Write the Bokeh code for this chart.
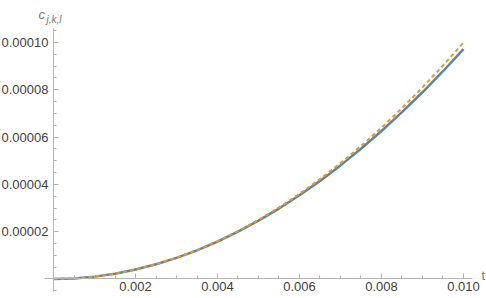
from bokeh.plotting import figure
from bokeh.models import Range1d, FixedTicker, NumeralTickFormatter, Label
from bokeh.embed import file_html
from bokeh.resources import INLINE

# data
t = [0.0, 0.0005, 0.001, 0.0015, 0.002, 0.0025, 0.003, 0.0035, 0.004, 0.0045,
     0.005, 0.0055, 0.006, 0.0065, 0.007, 0.0075, 0.008, 0.0085, 0.009, 0.0095, 0.010]
c_blue = [0.0, 2.5e-7, 9.97e-7, 2.24e-6, 3.98e-6, 6.21e-6, 8.92e-6, 1.213e-5, 1.582e-5,
          1.999e-5, 2.465e-5, 2.978e-5, 3.54e-5, 4.148e-5, 4.804e-5, 5.507e-5, 6.257e-5,
          7.053e-5, 7.896e-5, 8.785e-5, 9.72e-5]
c_orange = [0.0, 2.5e-7, 1.0e-6, 2.25e-6, 4.0e-6, 6.25e-6, 9.0e-6, 1.225e-5, 1.6e-5,
            2.025e-5, 2.5e-5, 3.025e-5, 3.6e-5, 4.225e-5, 4.9e-5, 5.625e-5, 6.4e-5,
            7.225e-5, 8.1e-5, 9.025e-5, 1.0e-4]

x_major = [0.002, 0.004, 0.006, 0.008, 0.010]
x_minor = [0.0005, 0.001, 0.0015, 0.0025, 0.003, 0.0035, 0.0045, 0.005, 0.0055,
           0.0065, 0.007, 0.0075, 0.0085, 0.009, 0.0095]
y_major = [0.00002, 0.00004, 0.00006, 0.00008, 0.00010]
y_minor = [-0.000005, 0.000005, 0.00001, 0.000015, 0.000025, 0.00003, 0.000035,
           0.000045, 0.00005, 0.000055, 0.000065, 0.00007, 0.000075, 0.000085,
           0.00009, 0.000095, 0.000105]

x_label = "t"
y_label_main = "c"
y_label_sub = "j,k,l"

p = figure(width=486, height=298, output_backend="svg", toolbar_location=None,
           x_range=Range1d(-0.0012927, 0.0105610),
           y_range=Range1d(-0.00000825, 0.00011776),
           min_border=0, background_fill_color="white", border_fill_color="white")
p.outline_line_color = None
p.grid.visible = False

p.line(t, c_blue, line_color="#5E81B5", line_width=2.5)
p.line(t, c_orange, line_color="#E19C24", line_width=2, line_dash="4 3")

axis_col = "#b3b3b3"
lab_col = "#404040"

xa = p.xaxis[0]
xa.fixed_location = 0
xa.bounds = (-0.00022, 0.01022)
xa.ticker = FixedTicker(ticks=x_major, minor_ticks=x_minor)
xa.formatter = NumeralTickFormatter(format="0.000")
ya = p.yaxis[0]
ya.fixed_location = 0
ya.bounds = (-0.0000054, 0.0001061)
ya.ticker = FixedTicker(ticks=y_major, minor_ticks=y_minor)
ya.formatter = NumeralTickFormatter(format="0.00000")

for ax in (xa, ya):
    ax.axis_line_color = axis_col
    ax.axis_line_width = 1
    ax.major_tick_line_color = axis_col
    ax.minor_tick_line_color = axis_col
    ax.major_tick_in = 5
    ax.major_tick_out = 0
    ax.minor_tick_in = 3
    ax.minor_tick_out = 0
    ax.major_label_text_color = lab_col
    ax.major_label_text_font = "Liberation Sans"
    ax.major_label_text_font_size = "13px"
xa.major_label_standoff = 3
ya.major_label_standoff = 5

p.add_layout(Label(x=0.010439, y=0.00000127, text=x_label, text_align="left",
                   text_baseline="alphabetic", text_font="Liberation Sans",
                   text_font_size="13px", text_color="#777777"))
p.add_layout(Label(x=-0.000366, y=0.00011205, text=y_label_main, text_align="left",
                   text_baseline="alphabetic", text_font="Liberation Sans",
                   text_font_style="italic", text_font_size="13px", text_color="#777777"))
p.add_layout(Label(x=-0.000171, y=0.00010973, text=y_label_sub, text_align="left",
                   text_baseline="alphabetic", text_font="Liberation Sans",
                   text_font_style="italic", text_font_size="10px", text_color="#777777"))

open("out.html", "w").write(file_html(p, INLINE))
